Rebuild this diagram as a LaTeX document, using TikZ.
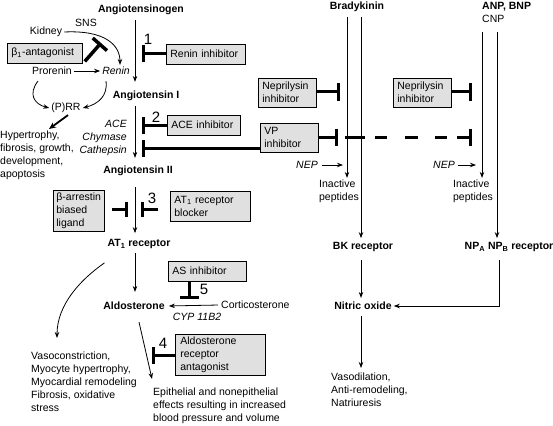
\documentclass[tikz,border=0pt]{standalone}
\usepackage{fontspec}
\setmainfont{Liberation Sans}
\usetikzlibrary{arrows.meta,calc}
\newcommand{\dfont}{\fontsize{10.5}{13}\selectfont}
\newcommand{\numfont}{\fontsize{15}{15}\selectfont}

\begin{document}
\begin{tikzpicture}[x=1pt,y=-1pt,
  txt/.style={font=\dfont, inner sep=2pt},
  ttl/.style={font=\dfont\bfseries, inner sep=2pt},
  multi/.style={font=\dfont, inner sep=0pt, align=left, anchor=north west},
  drug/.style={draw, line width=0.8pt, fill=black!12, font=\dfont,
               align=left, inner xsep=4pt, inner ysep=3pt, anchor=west},
  num/.style={font=\numfont, inner sep=0pt},
  arr/.style={-{Stealth[length=6pt,width=4.5pt]}, line width=0.8pt},
  blk/.style={-{Bar[width=17pt]}, line width=3pt}
]
\useasboundingbox (0,0) rectangle (553,425);

% axes of the three pathways
\coordinate (ax) at (135,0);
\coordinate (bx) at (142,0);
\coordinate (bkl) at (347,0);
\coordinate (bkr) at (361,0);
\coordinate (npl) at (482,0);
\coordinate (npr) at (497,0);

% RAAS column
\node[ttl] (agen) at (141,10) {Angiotensinogen};
\node[ttl] (ang1) at (146,96) {Angiotensin I};
\node[ttl] (ang2) at (138,171) {Angiotensin II};
\node[ttl] (at1) at (139,244) {AT\textsubscript{1} receptor};
\node[ttl] (aldo) at (134,306) {Aldosterone};

\draw[arr, shorten <=3pt, shorten >=7pt] (agen.south -| ax) -- (ang1.north -| ax);
\draw[arr, shorten <=3pt, shorten >=6pt] (ang1.south -| ax) -- (ang2.north -| ax);
\draw[arr, shorten <=9pt, shorten >=4pt] (ang2.south -| ax) -- (at1.north -| ax);
\draw[arr, shorten <=2pt, shorten >=8pt] (at1.south -| ax) -- (aldo.north -| ax);

% renin side
\node[txt] (kid) at (46,32) {Kidney};
\node[txt] (sns) at (86,23) {SNS};
\node[txt] (pro) at (52,71) {Prorenin};
\node[txt, font=\dfont\itshape] (ren) at (116,71) {Renin};
\node[txt] (prr) at (66,108) {(P)RR};
\node[drug, text width=67pt, minimum height=20pt] (bant) at (7,53) {β\textsubscript{1}-antagonist};
\node[multi] (hyp) at (0,131) {Hypertrophy,\\fibrosis, growth,\\development,\\apoptosis};
\coordinate (sns-b) at (101,43);
\coordinate (hyp-in) at (49,129);

\draw[arr] (kid.east) .. controls (105,30) and (120,45) .. ([xshift=4pt]ren.north);
\draw[-{Bar[width=19pt]}, line width=3.5pt] ($(bant.south east)+(2,-2)$) -- (sns-b);
\draw[arr] (pro) -- (ren);
\draw[arr] ($(pro.south)+(-14,4)$) .. controls (28,94) and (34,104) .. (prr.west);
\draw[arr] ($(ren.south)+(-10,4)$) .. controls (108,96) and (98,104) .. (prr.east);
\draw[-{Stealth[length=7pt,width=6pt]}, line width=1.8pt] ([xshift=2pt]prr.south) -- (hyp-in);

% inhibitors 1 and 2
\node[drug, text width=71pt, minimum height=20pt] (rinh) at (166,54) {Renin inhibitor};
\node[num] at (148,39) {1};
\draw[blk] (rinh.west) -- (rinh.west -| bx);

\node[txt, font=\dfont\itshape, align=right, anchor=east] (ace) at (129,138) {ACE\\Chymase\\Cathepsin};
\node[drug, text width=65pt, minimum height=20pt] (acei) at (167,125) {ACE inhibitor};
\node[num] at (156,117) {2};
\draw[blk] (acei.west) -- (acei.west -| bx);

% VP inhibitor
\node[drug, text width=50pt, minimum height=29pt] (vpinh) at (260,137.5) {VP\\inhibitor};
\coordinate (vpl) at (142,148);
\coordinate (vpr) at (338,137);
\coordinate (vpd) at (345,137);
\coordinate (vpe) at (472,137);
\draw[blk] (vpinh.west |- vpl) -- (vpl);
\draw[blk] (vpinh.east |- vpr) -- (vpr);
\draw[blk, dash pattern=on 20pt off 10pt on 12pt off 18pt on 13pt off 17pt on 12pt off 10pt] (vpd) -- (vpe);

% inhibitor 3
\node[drug, text width=45pt, inner xsep=3pt] (barr) at (53,211) {β-arrestin\\biased\\ligand};
\node[drug, text width=72pt, minimum height=30pt] (at1b) at (170,206) {AT\textsubscript{1} receptor\\blocker};
\node[num] at (152,198) {3};
\coordinate (b3l) at (128,209);
\coordinate (b3r) at (141,209);
\draw[blk, -{Bar[width=15pt]}] ([xshift=7pt]barr.east |- b3l) -- (b3l);
\draw[blk, -{Bar[width=15pt]}] ([xshift=-12pt]at1b.west |- b3r) -- (b3r);

% aldosterone
\node[drug, text width=70pt, minimum height=20pt] (asinh) at (168,271) {AS inhibitor};
\node[num] at (204,289) {5};
\coordinate (b5) at (189,299);
\draw[blk, -{Bar[width=19pt]}] (asinh.south -| b5) -- (b5);
\node[txt] (cort) at (219,305) [anchor=west] {Corticosterone};
\node[txt, font=\dfont\itshape] (cyp) at (197,317) {CYP 11B2};
\draw[arr, shorten <=1pt, shorten >=2pt] (cort.west) -- (aldo.east);

\node[drug, text width=80pt, inner xsep=5pt] (arant) at (175,355) {Aldosterone\\receptor\\antagonist};
\node[num] at (163,343) {4};
\coordinate (b4) at (152,355);
\draw[blk] (arant.west) -- (b4);

\node[multi] (epi) at (153,388) {Epithelial and nonepithelial\\effects resulting in increased\\blood pressure and volume};
\node[multi] (vasc) at (31,352) {Vasoconstriction,\\Myocyte hypertrophy,\\Myocardial remodeling\\Fibrosis, oxidative\\stress};
\coordinate (ep-in) at (152,379);
\coordinate (vc-in) at (57,338);
\draw[arr] ($(aldo.south)+(5,10)$) -- (ep-in);
\draw[arr] ($(at1.south west)+(-1,12)$) .. controls (80,280) and (57,305) .. (vc-in);

% bradykinin and natriuretic peptides
\node[ttl] (brady) at (357,7) {Bradykinin};
\node[ttl, anchor=west] (anp) at (480,7) {ANP, BNP};
\node[txt, anchor=west] (cnp) at (480,19) {CNP};

\node[drug, text width=50pt, minimum height=29pt] (nep1) at (258,92.5) {Neprilysin\\inhibitor};
\node[drug, text width=50pt, minimum height=29pt] (nep2) at (393,92.5) {Neprilysin\\inhibitor};
\coordinate (n1) at (340,92);
\coordinate (n2) at (472,92);
\draw[blk] (nep1.east |- n1) -- (n1);
\draw[blk] (nep2.east |- n2) -- (n2);

\node[txt, font=\dfont\itshape] (nepa) at (307,165) {NEP};
\node[txt, font=\dfont\itshape] (nepb) at (444,165) {NEP};
\coordinate (nepa-e) at (343,165);
\coordinate (nepb-e) at (476,165);
\draw[arr, shorten <=2pt] (nepa.east) -- (nepa-e);
\draw[arr, shorten <=1pt] (nepb.east) -- (nepb-e);

\node[txt, align=left] (ina1) at (339,191.5) {Inactive\\peptides};
\node[txt, align=left] (ina2) at (473,191.5) {Inactive\\peptides};
\node[ttl] (bkrec) at (363,247) {BK receptor};
\node[ttl] (nprec) at (509,247) {NP\textsubscript{A} NP\textsubscript{B} receptor};
\node[ttl] (no) at (363,306) {Nitric oxide};
\node[multi] (vaso) at (331,373) {Vasodilation,\\Anti-remodeling,\\Natriuresis};

\draw[arr, shorten <=3pt] (brady.south -| bkl) -- (ina1.north -| bkl);
\draw[arr, shorten <=3pt, shorten >=2pt] (brady.south -| bkr) -- (bkrec.north -| bkr);
\draw[arr, shorten <=7pt] (cnp.south -| npl) -- (ina2.north -| npl);
\draw[arr, shorten <=7pt, shorten >=2pt] (cnp.south -| npr) -- (nprec.north -| npr);
\draw[arr, shorten <=6pt, shorten >=2pt] (bkrec.south -| bkr) -- (no.north -| bkr);
\draw[arr, shorten <=6pt] ([xshift=-10pt]nprec.south) |- (no.east);
\draw[arr, shorten <=4pt, shorten >=5pt] (no.south -| bkr) -- (vaso.north -| bkr);
\end{tikzpicture}
\end{document}
